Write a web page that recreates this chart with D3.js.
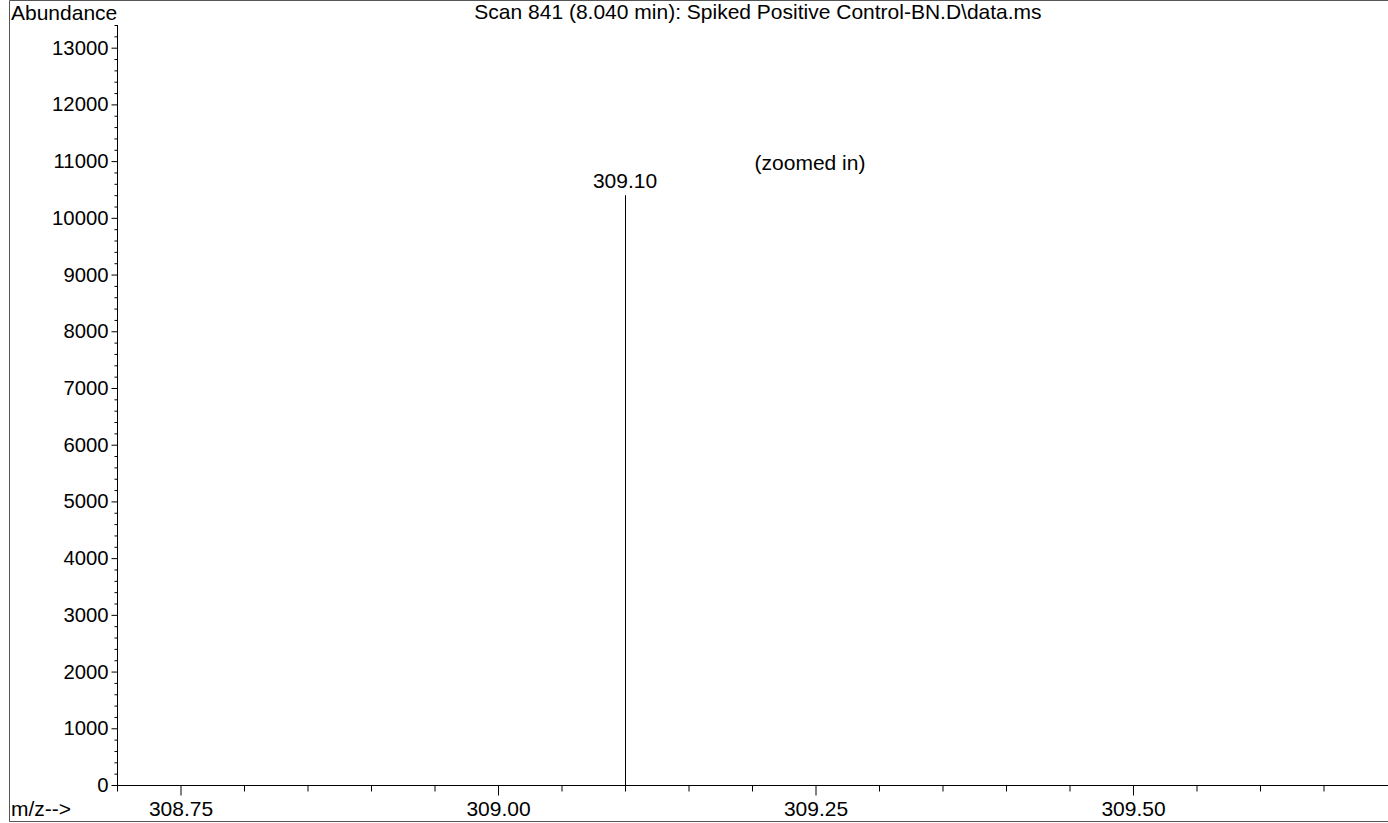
<!DOCTYPE html>
<html>
<head>
<meta charset="utf-8">
<script src="https://cdn.jsdelivr.net/npm/d3@7"></script>
<style>
html,body{margin:0;padding:0;background:#fff;}
svg text{font-family:"Liberation Sans",Arial,Helvetica,sans-serif;fill:#000;}
</style>
</head>
<body>
<svg id="chart" width="1388" height="823"></svg>
<script>
// ---- data ----
const titleText = "Scan 841 (8.040 min): Spiked Positive Control-BN.D\\data.ms";
const yAxisTitle = "Abundance";
const xAxisTitle = "m/z-->";
const peakMz = [309.10];
const peakAbundance = [10400];
const peakLabels = ["309.10"];
const xMajorTicks = [308.75, 309.00, 309.25, 309.50];
const xMinorTicks = [308.70, 308.80, 308.85, 308.90, 308.95, 309.05, 309.10, 309.15, 309.20, 309.30, 309.35, 309.40, 309.45, 309.55, 309.60, 309.65];
const yMajorTicks = [0,1000,2000,3000,4000,5000,6000,7000,8000,9000,10000,11000,12000,13000];
const xDomain = [308.70, 309.70];
const yDomain = [0, 13400];
const note = {text: "(zoomed in)", mz: 309.2457, abundance: 11000};

// ---- layout ----
const svg = d3.select("#chart");
const fs = 21;
const fsY = 20.3;
const x = d3.scaleLinear().domain(xDomain).range([117, 1387]);
const y = d3.scaleLinear().domain(yDomain).range([785, 25]);

// frame (top, left, bottom; no right edge)
svg.append("path").attr("d","M1388,0.5H9.5V821.5H1388")
  .attr("fill","none").attr("stroke","#555").attr("stroke-width",1);

// y axis
const yAxis = d3.axisLeft(y).tickValues(yMajorTicks).tickSize(6).tickPadding(3).tickFormat(d3.format("d"));
const gy = svg.append("g").attr("transform","translate(117.5,0)").call(yAxis);
gy.select(".domain").attr("d", `M0,${y(yDomain[1])}V${y(0)+0.5}`);
const yMinor = d3.range(200, 13401, 200).filter(v => v % 1000 !== 0);
svg.append("g").attr("transform","translate(117.5,0)").call(
  d3.axisLeft(y).tickValues(yMinor).tickSize(3).tickFormat("")).select(".domain").remove();

// x axis
const xAxis = d3.axisBottom(x).tickValues(xMajorTicks).tickSize(10).tickPadding(6).tickFormat(d3.format(".2f"));
const gx = svg.append("g").attr("transform","translate(0,785.5)").call(xAxis);
gx.select(".domain").attr("d", `M117,0H1388`);
svg.append("g").attr("transform","translate(0,785.5)").call(
  d3.axisBottom(x).tickValues(xMinorTicks).tickSize(6).tickFormat("")).select(".domain").remove();

gy.selectAll(".tick text").attr("font-size", fsY).style("font-family","'Liberation Sans',Arial,sans-serif");
gx.selectAll(".tick text").attr("font-size", fs).style("font-family","'Liberation Sans',Arial,sans-serif");
gx.selectAll(".tick text").attr("dy", null).attr("y", 30.5);
svg.selectAll(".tick line, .domain").attr("stroke","#000");

// peaks
const peaks = peakMz.map((m,i)=>({mz:m, ab:peakAbundance[i], label:peakLabels[i]}));
svg.append("g").selectAll("line").data(peaks).join("line")
  .attr("x1",d=>Math.round(x(d.mz))+0.5).attr("x2",d=>Math.round(x(d.mz))+0.5)
  .attr("y1",d=>y(d.ab)).attr("y2",y(0))
  .attr("stroke","#000").attr("stroke-width",1);
svg.append("g").selectAll("text").data(peaks).join("text")
  .attr("x",d=>x(d.mz)).attr("y",d=>y(d.ab)-7)
  .attr("text-anchor","middle").attr("font-size",fs).text(d=>d.label);

// note
svg.append("text").attr("x",x(note.mz)).attr("y",y(note.abundance)+9)
  .attr("text-anchor","middle").attr("font-size",fs).text(note.text);

// titles
svg.append("text").attr("x",758).attr("y",19).attr("text-anchor","middle")
  .attr("font-size",fs).text(titleText);
svg.append("text").attr("x",11).attr("y",19.5).attr("font-size",fs).text(yAxisTitle);
svg.append("text").attr("x",11).attr("y",816).attr("font-size",fs).text(xAxisTitle);
</script>
</body>
</html>
